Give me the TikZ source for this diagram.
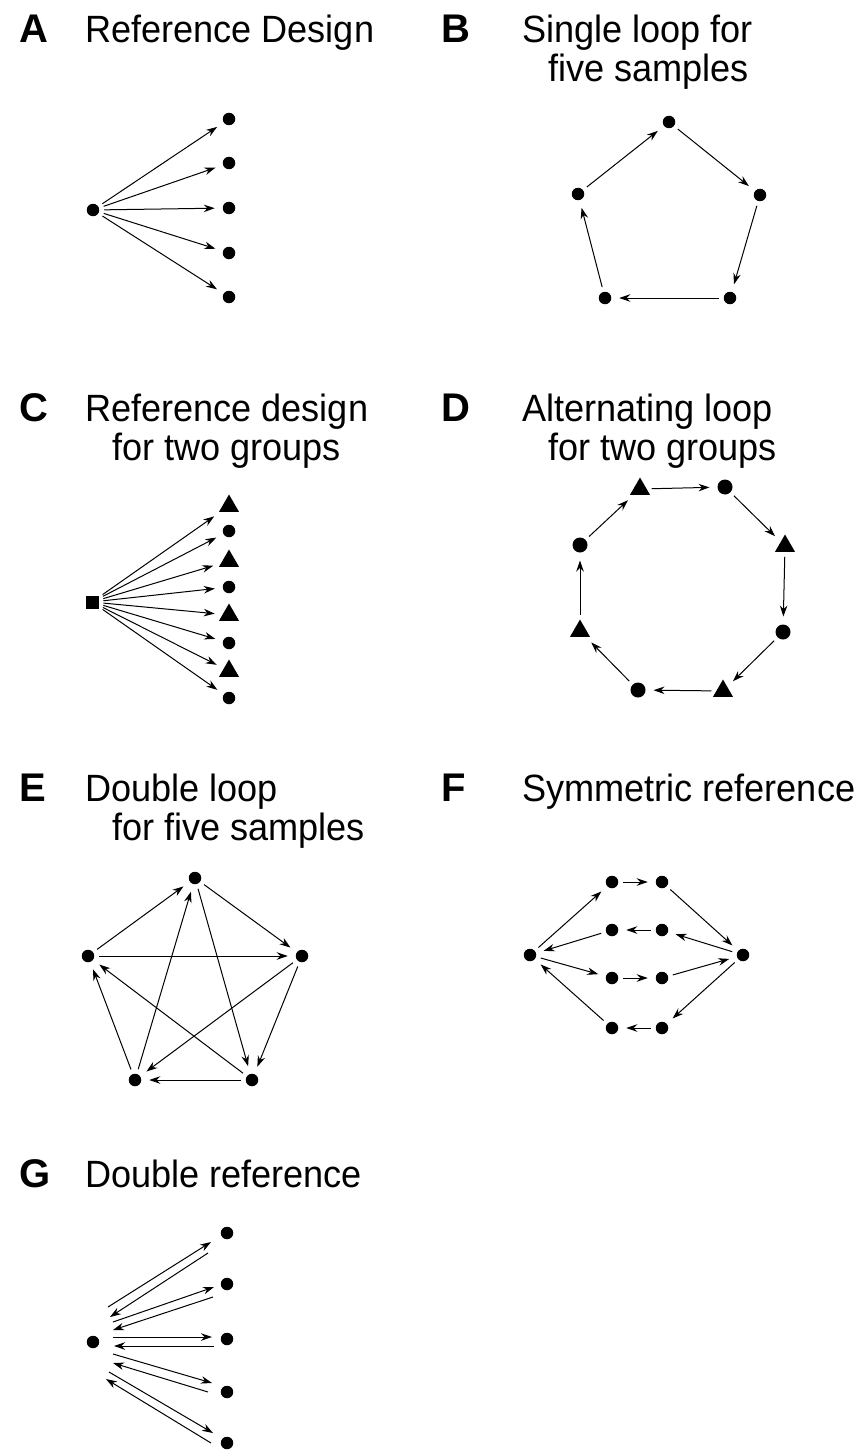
\documentclass[tikz,border=0pt]{standalone}
\usepackage{fontspec}
\setmainfont{Liberation Sans}[FakeStretch=0.95]
\newfontfamily\lblfont{Liberation Sans}[FakeStretch=1.0]
\usetikzlibrary{arrows.meta,shapes.geometric,calc}
\begin{document}
\begin{tikzpicture}[x=1pt,y=-1pt,
  dot/.style={circle,fill=black,inner sep=0pt,minimum size=12.5pt,outer sep=0pt},
  bigdot/.style={dot,minimum size=15pt},
  tri/.style={regular polygon,regular polygon sides=3,fill=black,inner sep=0pt,minimum size=23pt,outer sep=0pt},
  sq/.style={rectangle,fill=black,inner sep=0pt,minimum size=13pt,outer sep=0pt},
  tip/.style={-{Stealth[length=11pt,width=7.5pt]},line width=1pt},
  arr/.style={tip,shorten <=5pt,shorten >=8pt},
  ttl/.style={anchor=base west,inner sep=0pt,font=\fontsize{38}{40}\selectfont},
  lbl/.style={anchor=base west,inner sep=0pt,font=\lblfont\fontsize{40}{40}\selectfont\bfseries}]
\useasboundingbox[fill=white] (0,0) rectangle (864,1450);

% ---------- titles ----------
\node[lbl] (lA) at (19,43) {A};
\node[ttl] (tA) at (85,43) {Reference Design};
\node[lbl] (lB) at (441,43) {B};
\node[ttl] (tB1) at (522,43) {Single loop for};
\node[ttl] (tB2) at (548,82) {five samples};
\node[lbl] (lC) at (19,421) {C};
\node[ttl] (tC1) at (85,421) {Reference design};
\node[ttl] (tC2) at (112,460) {for two groups};
\node[lbl] (lD) at (441,421) {D};
\node[ttl] (tD1) at (522,421) {Alternating loop};
\node[ttl] (tD2) at (548,460) {for two groups};
\node[lbl] (lE) at (19,801) {E};
\node[ttl] (tE1) at (85,801) {Double loop};
\node[ttl] (tE2) at (112,840) {for five samples};
\node[lbl] (lF) at (441,801) {F};
\node[ttl] (tF) at (522,801) {Symmetric reference};
\node[lbl] (lG) at (19,1187) {G};
\node[ttl] (tG) at (85,1187) {Double reference};

% ---------- A ----------
\node[dot] (a0) at (93,210) {};
\node[dot] (a1) at (229,119) {};
\node[dot] (a2) at (229,163) {};
\node[dot] (a3) at (229,208) {};
\node[dot] (a4) at (229,253) {};
\node[dot] (a5) at (229,297) {};
\foreach \i in {1,...,5} \draw[arr] (a0) -- (a\i);

% ---------- B ----------
\node[dot] (bT) at (669,122) {};
\node[dot] (bL) at (578,194) {};
\node[dot] (bR) at (760,195) {};
\node[dot] (bBL) at (605,298) {};
\node[dot] (bBR) at (730,298) {};
\draw[arr] (bL) -- (bT);
\draw[arr] (bT) -- (bR);
\draw[arr] (bR) -- (bBR);
\draw[arr] (bBR) -- (bBL);
\draw[arr] (bBL) -- (bL);

% ---------- C ----------
\node[sq] (c0) at (92,602) {};
\node[tri] (c1) at (229,506) {};
\node[dot] (c2) at (229,531) {};
\node[tri] (c3) at (229,561) {};
\node[dot] (c4) at (229,587) {};
\node[tri] (c5) at (229,615) {};
\node[dot] (c6) at (229,643) {};
\node[tri] (c7) at (229,671) {};
\node[dot] (c8) at (229,698) {};
\foreach \i in {1,...,8} \draw[arr] (c0) -- (c\i);

% ---------- D ----------
\node[tri] (d1) at (640,489) {};
\node[bigdot] (d2) at (725,487) {};
\node[tri] (d3) at (785,546) {};
\node[bigdot] (d4) at (783,632) {};
\node[tri] (d5) at (723,691) {};
\node[bigdot] (d6) at (638,690) {};
\node[tri] (d7) at (580,631) {};
\node[bigdot] (d8) at (580,545) {};
\draw[arr] (d8) -- (d1);
\draw[arr] (d1) -- (d2);
\draw[arr] (d2) -- (d3);
\draw[arr] (d3) -- (d4);
\draw[arr] (d4) -- (d5);
\draw[arr] (d5) -- (d6);
\draw[arr] (d6) -- (d7);
\draw[arr] (d7) -- (d8);

% ---------- E ----------
\node[dot] (eT) at (195,878) {};
\node[dot] (eL) at (88,956) {};
\node[dot] (eR) at (302,956) {};
\node[dot] (eBL) at (135,1080) {};
\node[dot] (eBR) at (252,1080) {};
\draw[arr] (eL) -- (eT);
\draw[arr] (eT) -- (eR);
\draw[arr] (eR) -- (eBR);
\draw[arr] (eBR) -- (eBL);
\draw[arr] (eBL) -- (eL);
\draw[arr] (eL) -- (eR);
\draw[arr] (eBL) -- (eT);
\draw[arr] (eT) -- (eBR);
\draw[arr] (eR) -- (eBL);
\draw[arr] (eBR) -- (eL);

% ---------- F ----------
\node[dot] (fL) at (530,955) {};
\node[dot] (fR) at (743,955) {};
\node[dot] (f1a) at (612,882) {};
\node[dot] (f1b) at (662,882) {};
\node[dot] (f2a) at (612,930) {};
\node[dot] (f2b) at (662,930) {};
\node[dot] (f3a) at (612,978) {};
\node[dot] (f3b) at (662,978) {};
\node[dot] (f4a) at (612,1028) {};
\node[dot] (f4b) at (662,1028) {};
\draw[arr] (fL) -- (f1a);
\draw[arr] (f1a) -- (f1b);
\draw[arr] (f1b) -- (fR);
\draw[arr] (fR) -- (f2b);
\draw[arr] (f2b) -- (f2a);
\draw[arr] (f2a) -- (fL);
\draw[arr] (fL) -- (f3a);
\draw[arr] (f3a) -- (f3b);
\draw[arr] (f3b) -- (fR);
\draw[arr] (fR) -- (f4b);
\draw[arr] (f4b) -- (f4a);
\draw[arr] (f4a) -- (fL);

% ---------- G ----------
\node[dot] (g0) at (93,1342) {};
\node[dot] (g1) at (227,1233) {};
\node[dot] (g2) at (227,1284) {};
\node[dot] (g3) at (227,1339) {};
\node[dot] (g4) at (227,1392) {};
\node[dot] (g5) at (227,1443) {};
% free ends of the paired connectors
\coordinate (g1os) at (108,1307); \coordinate (g1ot) at (211,1242);
\coordinate (g1rt) at (208,1253); \coordinate (g1rs) at (110,1317);
\coordinate (g2os) at (113,1322); \coordinate (g2ot) at (214,1287);
\coordinate (g2rt) at (213,1297); \coordinate (g2rs) at (113,1330);
\coordinate (g3os) at (113,1337); \coordinate (g3ot) at (212,1337);
\coordinate (g3rt) at (214,1346); \coordinate (g3rs) at (114,1346);
\coordinate (g4os) at (113,1354); \coordinate (g4ot) at (212,1383);
\coordinate (g4rt) at (208,1392); \coordinate (g4rs) at (113,1363);
\coordinate (g5os) at (109,1372); \coordinate (g5ot) at (213,1433);
\coordinate (g5rt) at (211,1443); \coordinate (g5rs) at (106,1379);
\foreach \i in {1,...,5} {
  \draw[tip] (g\i os) -- (g\i ot);
  \draw[tip] (g\i rt) -- (g\i rs);
}
\end{tikzpicture}
\end{document}
